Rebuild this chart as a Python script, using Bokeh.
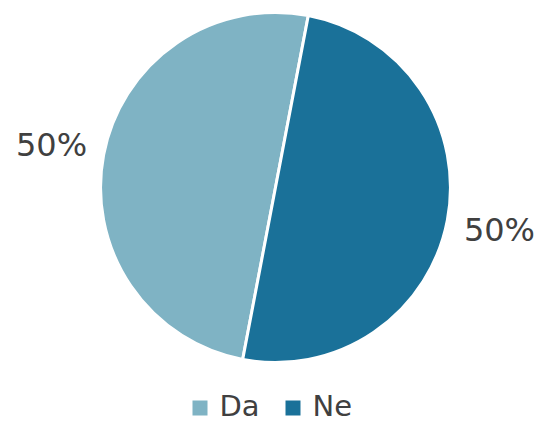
import numpy as np
from bokeh.plotting import figure
from bokeh.models import Range1d, ColumnDataSource
from bokeh.core.properties import value
from bokeh.embed import file_html
from bokeh.resources import INLINE

categories = ["Da", "Ne"]
shares = [50, 50]
labels = ["50%", "50%"]
colors = ["#7FB3C4", "#1A7199"]

W, H = 542, 422
FONT = "DejaVu Sans"
TXT = "#404040"

p = figure(width=W, height=H, output_backend="svg", toolbar_location=None,
           x_range=Range1d(0, W), y_range=Range1d(0, H), min_border=0,
           x_axis_location=None, y_axis_location=None)
p.grid.visible = False
p.outline_line_color = None

cx, cy, R = 275, 235, 175
start0 = np.deg2rad(79.2)
frac = np.array(shares, dtype=float) / sum(shares)
ends = start0 + np.cumsum(frac) * 2 * np.pi
starts = ends - frac * 2 * np.pi
mids = (starts + ends) / 2
LR = 228
src = ColumnDataSource(dict(cat=categories, start=starts, end=ends, color=colors,
                            lx=cx + LR * np.cos(mids), ly=cy + LR * np.sin(mids), lab=labels))
p.wedge(x=cx, y=cy, radius=R, start_angle="start", end_angle="end", fill_color="color",
        line_color="white", line_width=3, source=src)
p.text(x="lx", y="ly", text="lab", source=src, text_align="center", text_baseline="middle",
       text_font=value(FONT), text_font_size="32px", text_color=TXT)

# legend
lgx = [199.5, 292.5]
leg = ColumnDataSource(dict(x=lgx, tx=[x + 19.5 for x in lgx], y=[14.5, 14.5], ty=[16.5, 16.5],
                            cat=categories, color=colors))
p.rect(x="x", y="y", width=15, height=15, fill_color="color", line_color=None, source=leg)
p.text(x="tx", y="ty", text="cat", source=leg, text_align="left", text_baseline="middle",
       text_font=value(FONT), text_font_size="29px", text_color=TXT)

open("out.html", "w").write(file_html(p, INLINE))
